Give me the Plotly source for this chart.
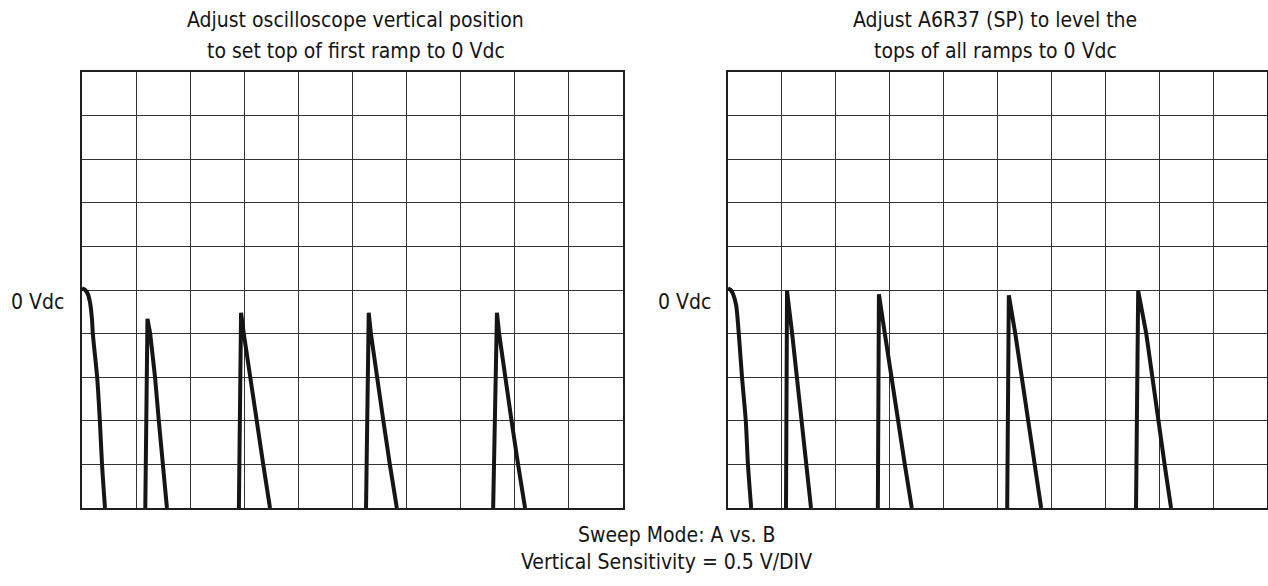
import plotly.graph_objects as go

# Canvas size in pixels
W, H = 1268, 586

# Screen graticule: 10 x 10 divisions, 0.5 V/div, 0 Vdc at the centre line
X_RANGE = [0, 10]
Y_RANGE = [-2.5, 2.5]

# Left screen: first ramp set to 0 Vdc, later ramps sit lower (x in divisions, y in volts)
left_ramps_x = [
    [0.00, 0.06, 0.11, 0.15, 0.185, 0.20, 0.28, 0.33, 0.37, 0.425],
    [1.17, 1.21, 1.26, 1.35, 1.42, 1.50, 1.57],
    [2.90, 2.94, 2.99, 3.105, 3.23, 3.35, 3.475],
    [5.25, 5.30, 5.34, 5.45, 5.57, 5.69, 5.82],
    [7.60, 7.67, 7.71, 7.82, 7.94, 8.06, 8.19],
]
left_ramps_y = [
    [0.02, 0.0, -0.05, -0.15, -0.34, -0.5, -1.0, -1.5, -2.0, -2.5],
    [-2.5, -0.33, -0.5, -1.0, -1.5, -2.0, -2.5],
    [-2.5, -0.26, -0.5, -1.0, -1.5, -2.0, -2.5],
    [-2.5, -0.26, -0.5, -1.0, -1.5, -2.0, -2.5],
    [-2.5, -0.26, -0.5, -1.0, -1.5, -2.0, -2.5],
]

# Right screen: all ramp tops levelled near 0 Vdc
right_ramps_x = [
    [0.00, 0.05, 0.09, 0.15, 0.20, 0.26, 0.33, 0.37, 0.43],
    [1.076, 1.095, 1.19, 1.28, 1.37, 1.46, 1.54],
    [2.78, 2.80, 2.91, 3.03, 3.15, 3.28, 3.41],
    [5.18, 5.21, 5.33, 5.45, 5.56, 5.68, 5.81],
    [7.57, 7.61, 7.76, 7.87, 7.98, 8.10, 8.22],
]
right_ramps_y = [
    [0.02, 0.0, -0.04, -0.17, -0.5, -1.0, -1.5, -2.0, -2.5],
    [-2.5, -0.01, -0.5, -1.0, -1.5, -2.0, -2.5],
    [-2.5, -0.05, -0.5, -1.0, -1.5, -2.0, -2.5],
    [-2.5, -0.06, -0.5, -1.0, -1.5, -2.0, -2.5],
    [-2.5, -0.01, -0.5, -1.0, -1.5, -2.0, -2.5],
]

left_title = ["Adjust oscilloscope vertical position", "to set top of first ramp to 0 Vdc"]
right_title = ["Adjust A6R37 (SP) to level the", "tops of all ramps to 0 Vdc"]
zero_label = "0 Vdc"
footer = ["Sweep Mode: A vs. B", "Vertical Sensitivity = 0.5 V/DIV"]

FONT = "Liberation Sans Narrow, DejaVu Sans Condensed, Arial Narrow, sans-serif"
INK = "#151515"


def px(x):
    return x / W


def py(y):
    return 1 - y / H


fig = go.Figure()


def add_ramps(xs_list, ys_list, xa, ya):
    for i, (xs, ys) in enumerate(zip(xs_list, ys_list)):
        # the first sweep bends over smoothly from the 0 Vdc start point
        shape = "spline" if i == 0 else "linear"
        fig.add_trace(go.Scatter(x=xs, y=ys, mode="lines", xaxis=xa, yaxis=ya,
                                 line=dict(color=INK, width=4, shape=shape,
                                           smoothing=0.8),
                                 showlegend=False, hoverinfo="skip"))


add_ramps(left_ramps_x, left_ramps_y, "x", "y")
add_ramps(right_ramps_x, right_ramps_y, "x2", "y2")

grid_x = dict(range=X_RANGE, tickmode="linear", tick0=0, dtick=1, showgrid=True,
              gridcolor="#333333", gridwidth=1.4, zeroline=False, showline=True,
              mirror=True, linecolor="#1e1e1e", linewidth=1.5, showticklabels=False,
              ticks="", fixedrange=True)
grid_y = dict(range=Y_RANGE, tickmode="linear", tick0=0, dtick=0.5, showgrid=True,
              gridcolor="#333333", gridwidth=1.4, zeroline=False, showline=True,
              mirror=True, linecolor="#1e1e1e", linewidth=1.5, showticklabels=False,
              ticks="", fixedrange=True)

y_dom = [py(508), py(72)]
fig.update_layout(
    width=W, height=H,
    margin=dict(l=0, r=0, t=0, b=0),
    paper_bgcolor="white", plot_bgcolor="white",
    xaxis=dict(domain=[px(82), px(623)], anchor="y", **grid_x),
    yaxis=dict(domain=y_dom, anchor="x", **grid_y),
    xaxis2=dict(domain=[px(728), px(1267)], anchor="y2", **grid_x),
    yaxis2=dict(domain=y_dom, anchor="x2", **grid_y),
    font=dict(family=FONT, color=INK),
)

annotations = []


def text(t, x, y, size, xanchor="center"):
    annotations.append(dict(text=t, x=px(x), y=py(y), xref="paper", yref="paper",
                            xanchor=xanchor, yanchor="middle", showarrow=False,
                            font=dict(family=FONT, size=size, color=INK)))


text(left_title[0], 356, 20, 21)
text(left_title[1], 356, 51, 21)
text(right_title[0], 995, 20, 21)
text(right_title[1], 995, 51, 21)
text(zero_label, 66, 302, 21, xanchor="right")
text(zero_label, 713, 302, 21, xanchor="right")
text(footer[0], 676, 535, 21)
text(footer[1], 667, 562, 21)

fig.update_layout(annotations=annotations)
fig.write_html("out.html")
